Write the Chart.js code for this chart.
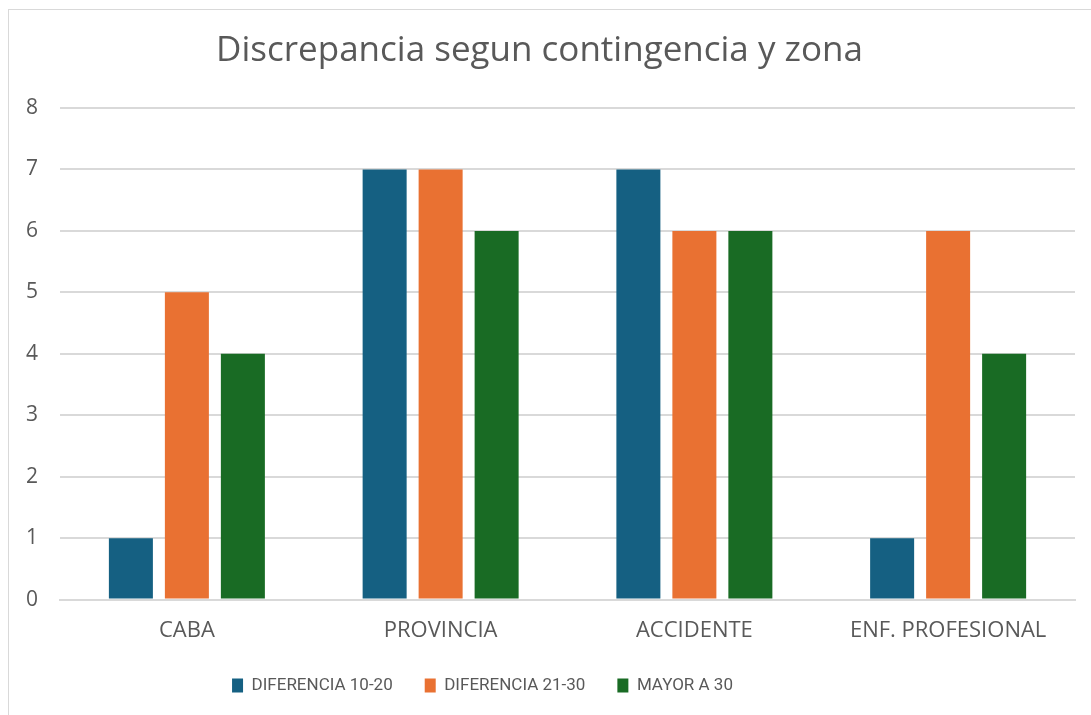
<!DOCTYPE html>
<html>
<head>
<meta charset="utf-8">
<script src="https://cdn.jsdelivr.net/npm/chart.js@4.4.1/dist/chart.umd.min.js"></script>
<style>
  html, body { margin: 0; padding: 0; background: #ffffff; }
  #wrap { position: relative; width: 1091px; height: 715px; }
  #frame { position: absolute; left: 8px; top: 9px; width: 1100px; height: 720px; border: 1px solid #d9d9d9; box-sizing: border-box; }
  canvas { position: absolute; left: 0; top: 0; }
</style>
</head>
<body>
<div id="wrap">
  <div id="frame"></div>
  <canvas id="discChart" width="1091" height="715"></canvas>
</div>
<script>
// data
var categories = ['CABA', 'PROVINCIA', 'ACCIDENTE', 'ENF. PROFESIONAL'];
var dif1020 = [1, 7, 7, 1];
var dif2130 = [5, 7, 6, 6];
var mayor30 = [4, 6, 6, 4];
var seriesNames = ['DIFERENCIA 10-20', 'DIFERENCIA 21-30', 'MAYOR A 30'];

Chart.defaults.font.family = '"Open Sans", Roboto, sans-serif';
Chart.defaults.color = '#595959';

// legend sits a bit left of centre (and a bit higher) in the original
const legendShift = {
  id: 'legendShift',
  afterLayout: function (chart) {
    chart.legend.left -= 57;
    chart.legend.right -= 57;
    chart.legend.top -= 9;
    chart.legend.bottom -= 9;
  }
};

const ctx = document.getElementById('discChart').getContext('2d');
const discChart = new Chart(ctx, {
  type: 'bar',
  data: {
    labels: categories,
    datasets: [{
      label: seriesNames[0],
      data: dif1020,
      backgroundColor: '#156082'
    }, {
      label: seriesNames[1],
      data: dif2130,
      backgroundColor: '#E97132'
    }, {
      label: seriesNames[2],
      data: mayor30,
      backgroundColor: '#196B24'
    }]
  },
  options: {
    responsive: false,
    animation: false,
    categoryPercentage: 0.662,
    barPercentage: 0.786,
    layout: {
      padding: { left: 4, right: 16, top: 30, bottom: 2 }
    },
    plugins: {
      title: {
        display: true,
        text: 'Discrepancia segun contingencia y zona',
        color: '#595959',
        font: { size: 35, weight: 'normal' },
        padding: { top: 0, bottom: 36 }
      },
      legend: {
        position: 'bottom',
        labels: {
          boxWidth: 11,
          boxHeight: 14,
          padding: 32,
          color: '#595959',
          font: { family: 'Roboto, sans-serif', size: 17 }
        }
      },
      tooltip: { enabled: false }
    },
    scales: {
      x: {
        grid: { display: false },
        border: { color: '#d9d9d9', width: 2 },
        ticks: { color: '#595959', font: { size: 22 }, padding: 10 }
      },
      y: {
        min: 0,
        max: 8,
        ticks: { stepSize: 1, color: '#595959', font: { size: 21 }, padding: 22 },
        grid: { color: '#d9d9d9', lineWidth: 2, drawTicks: false },
        border: { display: false }
      }
    }
  },
  plugins: [legendShift]
});
</script>
</body>
</html>
